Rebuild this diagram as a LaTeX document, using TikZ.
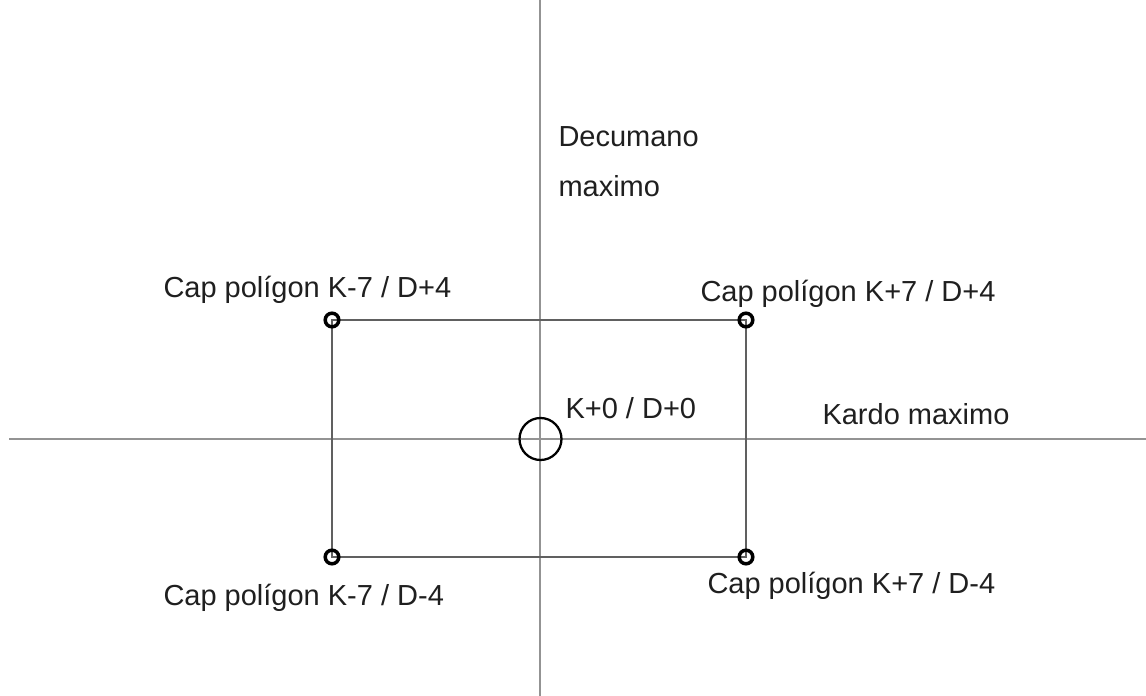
\documentclass[tikz,border=0pt]{standalone}
\usepackage{fontspec}
\setmainfont{Liberation Sans}

\tikzset{every picture/.style={line width=0.75pt}}
\tikzset{
  axisline/.style={draw=gray!85, line width=1.1pt},
  rectline/.style={draw=gray!75!black, line width=0.8pt},
  capmark/.style={circle, draw=black, line width=2.6pt, minimum size=10.2pt, inner sep=0pt},
  originmark/.style={circle, draw=black, line width=1.7pt, minimum size=31.5pt, inner sep=0pt},
  lbl/.style={anchor=base west, inner sep=0pt, text=black!88, font=\fontsize{21.75}{24.75}\selectfont},
}

\begin{document}
\begin{tikzpicture}[x=0.75pt,y=0.75pt,yscale=-1,xscale=1]
        \useasboundingbox (0,0) rectangle (1146,696);

        % axes
        \coordinate (kw) at (9,439);
        \coordinate (ke) at (1146,439);
        \coordinate (dn) at (540,0);
        \coordinate (ds) at (540,696);
        \draw[axisline] (kw) -- (ke);
        \draw[axisline] (dn) -- (ds);

        % corners of the polygon
        \coordinate (nw) at (332,320);
        \coordinate (ne) at (746,320);
        \coordinate (sw) at (332,557);
        \coordinate (se) at (746,557);
        \draw[rectline] (nw) -- (ne) -- (se) -- (sw) -- cycle;

        \node[capmark] (capnw) at (nw) {};
        \node[capmark] (capne) at (ne) {};
        \node[capmark] (capsw) at (sw) {};
        \node[capmark] (capse) at (se) {};
        \node[originmark] (origin) at (540.5,439) {};

        % labels
        \node[lbl] (decumano) at (558,146) {Decumano};
        \node[lbl] (maximo) at (558,196) {maximo};
        \node[lbl] (kardo) at (822,424) {Kardo maximo};
        \node[lbl] (lblorigin) at (565,418) {K+0 / D+0};
        \node[lbl] (lblnw) at (163,297) {Cap polígon K-7 / D+4};
        \node[lbl] (lblne) at (700,301) {Cap polígon K+7 / D+4};
        \node[lbl] (lblsw) at (163,605) {Cap polígon K-7 / D-4};
        \node[lbl] (lblse) at (707,593) {Cap polígon K+7 / D-4};
    \end{tikzpicture}
\end{document}
